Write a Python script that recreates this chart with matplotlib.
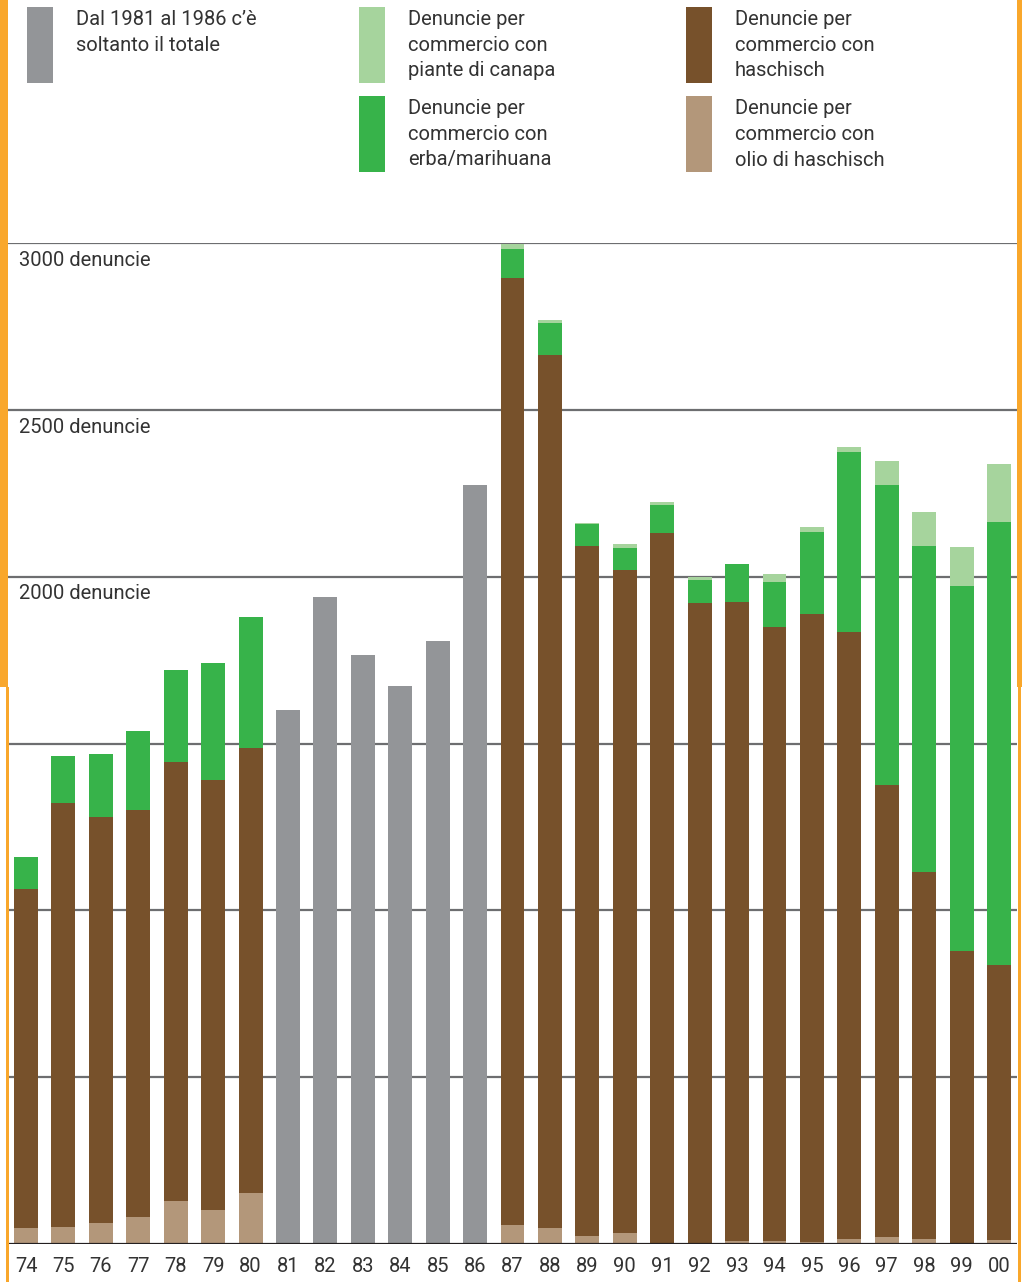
import numpy as np
import matplotlib.pyplot as plt
from matplotlib.patches import Rectangle

plt.rcParams['font.family'] = ['Roboto', 'DejaVu Sans']

# Years 1974-2000 (two-digit labels)
years = ["74", "75", "76", "77", "78", "79", "80", "81", "82", "83", "84", "85", "86",
         "87", "88", "89", "90", "91", "92", "93", "94", "95", "96", "97", "98", "99", "00"]

# Denunce per tipo (0 where only total is known, 1981-1986)
olio = [48, 51, 63, 81, 129, 102, 153, 0, 0, 0, 0, 0, 0,
        57, 48, 24, 33, 3, 3, 9, 9, 6, 15, 21, 15, 3, 12]
haschisch = [1017, 1272, 1218, 1221, 1317, 1290, 1335, 0, 0, 0, 0, 0, 0,
             2838, 2616, 2067, 1986, 2127, 1917, 1914, 1839, 1881, 1818, 1356, 1101, 876, 825]
erba = [96, 141, 189, 234, 273, 348, 390, 0, 0, 0, 0, 0, 0,
        87, 96, 66, 66, 84, 69, 114, 135, 246, 540, 897, 975, 1092, 1326]
canapa = [0, 0, 0, 0, 0, 0, 0, 0, 0, 0, 0, 0, 0,
          15, 9, 3, 12, 9, 10, 2, 24, 15, 15, 72, 102, 117, 174]
totale = [0, 0, 0, 0, 0, 0, 0, 1599, 1938, 1764, 1671, 1806, 2274,
          0, 0, 0, 0, 0, 0, 0, 0, 0, 0, 0, 0, 0, 0]

grid_values = [500, 1000, 1500, 2000, 2500, 3000]
labelled = [3000, 2500, 2000]

c_gray = '#939598'
c_canapa = '#a6d49d'
c_erba = '#37b34a'
c_hasch = '#77512b'
c_olio = '#b3977a'
c_orange = '#f9a72b'
c_text = '#333333'

W, H = 1022, 1282
fig = plt.figure(figsize=(W / 100, H / 100), dpi=100)

# axes: x from 8 to 1017 px, y from 1244 (0) to 243 (3000)
ax = fig.add_axes([8 / W, (H - 1244) / H, 1009 / W, 1001 / H])

x = np.arange(len(years))
w = 0.64
b1 = np.array(olio)
b2 = b1 + np.array(haschisch)
b3 = b2 + np.array(erba)

ax.bar(x, olio, width=w, color=c_olio, zorder=2)
ax.bar(x, haschisch, width=w, bottom=b1, color=c_hasch, zorder=2)
ax.bar(x, erba, width=w, bottom=b2, color=c_erba, zorder=2)
ax.bar(x, canapa, width=w, bottom=b3, color=c_canapa, zorder=2)
ax.bar(x, totale, width=w, color=c_gray, zorder=2)

for v in grid_values:
    ax.axhline(v, color='#6d6e70', lw=1.6, zorder=1)
ax.axhline(0, color='#231f20', lw=1.6, zorder=3)
ax.axhline(-5, color='#b0b0b0', lw=1.0, zorder=3)

for v in labelled:
    ax.text(0.0109, v - 68, f"{v} denuncie", transform=ax.get_yaxis_transform(),
            fontsize=14.5, color=c_text, va='baseline', ha='left')

ax.set_xlim(-0.481, 26.48)
ax.set_ylim(0, 3000)
ax.set_xticks(x)
ax.set_xticklabels(years, fontsize=14.5, color=c_text)
ax.tick_params(axis='x', length=0, pad=9.5)
ax.set_yticks([])
for s in ax.spines.values():
    s.set_visible(False)
ax.patch.set_alpha(0)

# legend
def px_rect(x0, y0, x1, y1, color):
    fig.add_artist(Rectangle((x0 / W, 1 - y1 / H), (x1 - x0) / W, (y1 - y0) / H,
                             transform=fig.transFigure, color=color, lw=0))

legend = [
    (27, 7, c_gray, 76, "Dal 1981 al 1986 c’è\nsoltanto il totale"),
    (359, 7, c_canapa, 408, "Denuncie per\ncommercio con\npiante di canapa"),
    (359, 96, c_erba, 408, "Denuncie per\ncommercio con\nerba/marihuana"),
    (686, 7, c_hasch, 735, "Denuncie per\ncommercio con\nhaschisch"),
    (686, 96, c_olio, 735, "Denuncie per\ncommercio con\nolio di haschisch"),
]
for px, py, col, tx, label in legend:
    px_rect(px, py, px + 26, py + 76, col)
    fig.text(tx / W, 1 - (py + 3) / H, label, fontsize=14.5, color=c_text,
             va='top', ha='left', linespacing=1.45)

# orange frame pieces
px_rect(0, 0, 8, 687, c_orange)
px_rect(6, 687, 9, H, c_orange)
px_rect(1017, 0, W, 687, c_orange)
px_rect(1018, 687, 1021, H, c_orange)

fig.savefig('out.png', dpi=100)
